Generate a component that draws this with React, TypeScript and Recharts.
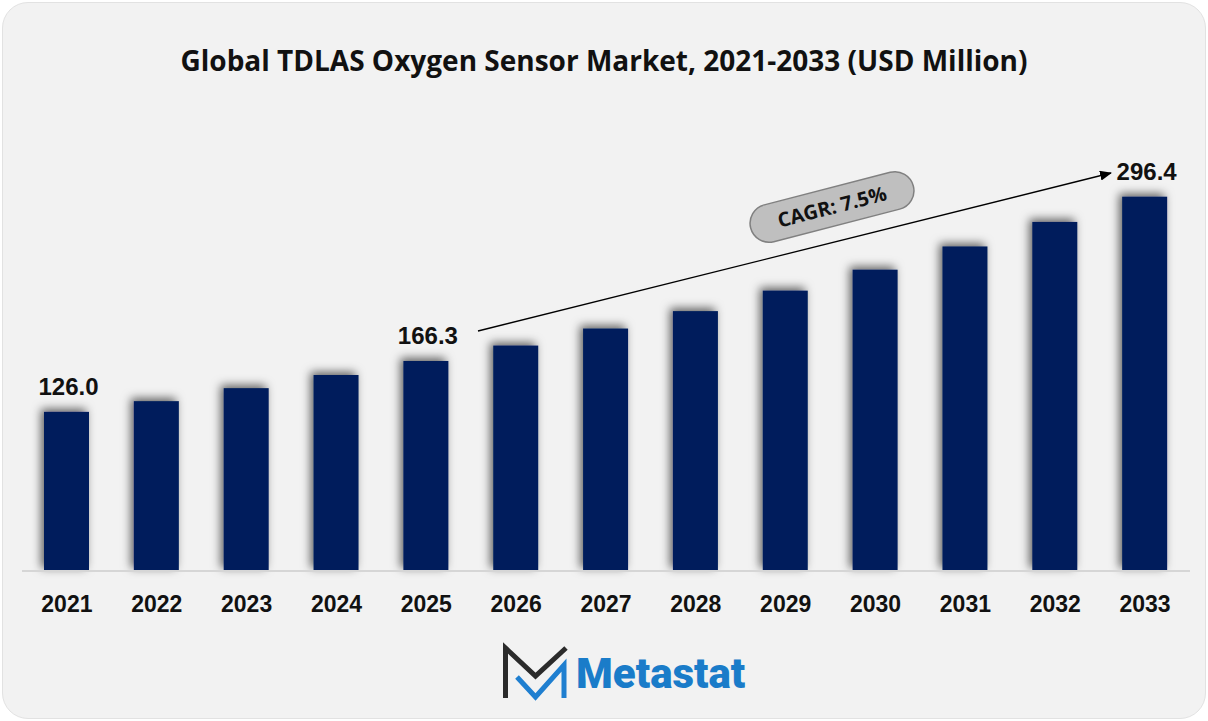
import React from "react";
import { ComposedChart, Bar, XAxis, YAxis, LabelList } from "recharts";

const years = ["2021", "2022", "2023", "2024", "2025", "2026", "2027", "2028", "2029", "2030", "2031", "2032", "2033"];
const marketSize = [126.0, 134.5, 144.8, 155.2, 166.3, 178.5, 192.0, 205.8, 222.0, 238.6, 257.0, 276.4, 296.4];
const labelledYears = ["2021", "2025", "2033"];

const data = years.map((year, i) => ({ year, value: marketSize[i] }));

const W = 1208;
const H = 721;
const BAR_COLOR = "#021f5c";

function BarShape(props: any) {
  const { x, y, width, height } = props;
  return <rect x={x} y={y} width={width} height={height} fill={BAR_COLOR} filter="url(#barShadow)" />;
}

function YearTick(props: any) {
  const { x, y, payload } = props;
  return (
    <text x={x} y={y + 33} textAnchor="middle" fontFamily="Liberation Sans, Arial, sans-serif" fontWeight="bold" fontSize={23} fill="#111">
      {payload.value}
    </text>
  );
}

function ValueLabel(props: any) {
  const { x, y, width, value, index } = props;
  if (!labelledYears.includes(years[index])) return null;
  return (
    <text x={x + width / 2 + 2} y={y - 17} textAnchor="middle" fontFamily="Liberation Sans, Arial, sans-serif" fontWeight="bold" fontSize={24} fill="#111">
      {Number(value).toFixed(1)}
    </text>
  );
}

export default function App() {
  return (
    <div style={{ position: "absolute", left: 0, top: 0, width: W, height: H, background: "#fff" }}>
      <div
        style={{
          position: "absolute",
          left: 2,
          top: 2,
          width: W - 6,
          height: H - 6,
          borderRadius: 26,
          background: "#f2f2f2",
          border: "1px solid #e2e2e2",
        }}
      />
      <div
        style={{
          position: "absolute",
          left: 0,
          top: 40,
          width: W,
          textAlign: "center",
          fontFamily: "'Open Sans', sans-serif",
          fontWeight: 700,
          fontSize: 28,
          lineHeight: "40px",
          color: "#111",
        }}
      >
        Global TDLAS Oxygen Sensor Market, 2021-2033 (USD Million)
      </div>

      <div style={{ position: "absolute", left: 0, top: 0 }}>
        <ComposedChart width={W} height={H} data={data} margin={{ top: 129, right: 18, bottom: 120, left: 22 }}>
          <defs>
            <filter id="barShadow" x="-40%" y="-20%" width="180%" height="140%">
              <feDropShadow dx="-3" dy="-3" stdDeviation="5" floodColor="#000" floodOpacity="0.6" />
            </filter>
          </defs>
          <XAxis
            dataKey="year"
            axisLine={{ stroke: "#d6d6d6", strokeWidth: 2 }}
            tickLine={false}
            tick={<YearTick />}
            interval={0}
            height={30}
          />
          <YAxis hide domain={[0, 350]} />
          <Bar dataKey="value" barSize={45} shape={<BarShape />} isAnimationActive={false}>
            <LabelList dataKey="value" content={<ValueLabel />} />
          </Bar>
        </ComposedChart>
      </div>

      <svg style={{ position: "absolute", left: 0, top: 0 }} width={W} height={H}>
        <defs>
          <marker id="arrowHead" markerWidth="12" markerHeight="10" refX="11" refY="5" orient="auto" markerUnits="userSpaceOnUse">
            <path d="M0,0 L12,5 L0,10 Z" fill="#000" />
          </marker>
        </defs>
        <line x1={478} y1={331} x2={1111} y2={173} stroke="#000" strokeWidth={1.3} markerEnd="url(#arrowHead)" />
        <g transform="translate(832,207) rotate(-14.5)">
          <rect x={-84} y={-19} width={168} height={38} rx={19} fill="#bfbfbf" stroke="#808080" strokeWidth={1.5} />
          <text x={0} y={7} textAnchor="middle" fontFamily="'Open Sans', sans-serif" fontWeight={700} fontSize={20} fill="#111">
            CAGR: 7.5%
          </text>
        </g>

        <g>
          <polyline points="505.5,698 505.5,648 535.5,676 566,648" fill="none" stroke="#2b2b2b" strokeWidth={5} strokeLinejoin="miter" />
          <polyline points="517,677 535.5,697 564,665 564,698" fill="none" stroke="#1f7fd0" strokeWidth={5} strokeLinejoin="miter" />
          <text x={576} y={688} fontFamily="Roboto, sans-serif" fontWeight={900} fontSize={42} fill="#1a7cc9">
            Metastat
          </text>
        </g>
      </svg>
    </div>
  );
}
